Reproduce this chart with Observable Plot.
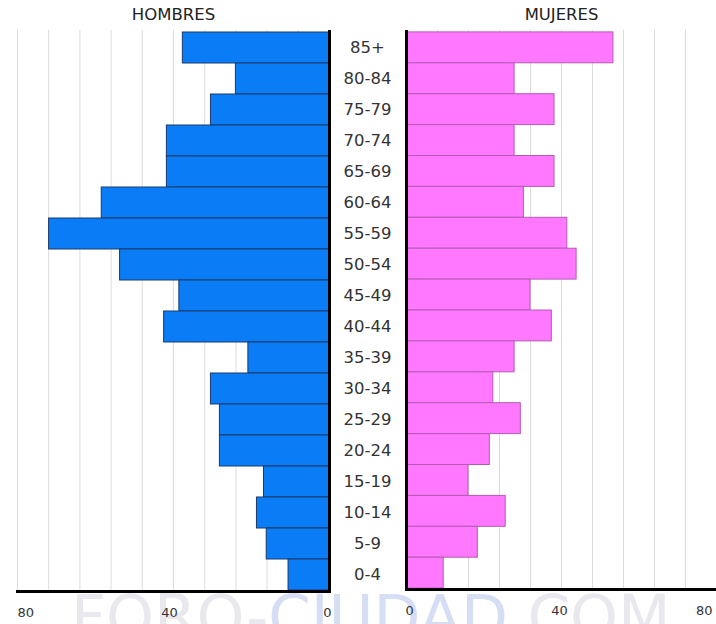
<!DOCTYPE html>
<html>
<head>
<meta charset="utf-8">
<script src="https://cdn.jsdelivr.net/npm/d3@7"></script>
<script src="https://cdn.jsdelivr.net/npm/@observablehq/plot@0.6"></script>
<style>
  html, body { margin: 0; padding: 0; background: #fff; }
  #wrap { position: relative; width: 716px; height: 624px; overflow: hidden; font-family: "DejaVu Sans", Verdana, sans-serif; }
  #wm { position: absolute; left: 71px; top: 586px; font: 61px/61px "DejaVu Sans", sans-serif; white-space: nowrap; z-index: 0; }
  #left, #right { position: absolute; top: 0; z-index: 1; }
  #left { left: 0; }
  #right { left: 404px; }
</style>
</head>
<body>
<div id="wrap">
  <div id="wm"><span style="color:#e8e8ee">FORO-</span><span style="color:#d6def4">CIUDAD</span><span style="color:#e8e8ee">.COM</span></div>
  <div id="left"></div>
  <div id="right"></div>
</div>
<script>
const ages = ["85+","80-84","75-79","70-74","65-69","60-64","55-59","50-54","45-49","40-44","35-39","30-34","25-29","20-24","15-19","10-14","5-9","0-4"];
const hombres = [37.6, 24.0, 30.4, 41.7, 41.7, 58.4, 71.9, 53.7, 38.5, 42.4, 20.8, 30.4, 28.1, 28.1, 16.8, 18.6, 16.1, 10.5];
const mujeres = [53.4, 27.9, 38.2, 27.9, 38.2, 30.3, 41.5, 43.9, 32.0, 37.5, 27.9, 22.4, 29.5, 21.5, 16.0, 25.6, 18.4, 9.6];
const tickLabels = [0, 40, 80];
const gridTicks = [8, 16, 24, 32, 40, 48, 56, 64, 72, 80];
const titles = ["HOMBRES", "MUJERES"];

const men = ages.map((a, i) => ({age: a, value: hombres[i]}));
const women = ages.map((a, i) => ({age: a, value: mujeres[i]}));

const font = "DejaVu Sans, Verdana, sans-serif";
const common = {
  height: 624,
  marginTop: 30,
  marginBottom: 33,
  style: {background: "transparent", fontFamily: font},
  y: {domain: ages, padding: 0, axis: null},
};

const left = Plot.plot({
  ...common,
  width: 407,
  marginLeft: 17,
  marginRight: 78,
  x: {domain: [0, 80], reverse: true, axis: null},
  marks: [
    Plot.ruleX(gridTicks, {stroke: "#dcdcdc", strokeWidth: 1}),
    Plot.barX(men, {x: "value", y: "age", fill: "#0a7cf5", stroke: "#1b3a6a", strokeWidth: 1}),
    Plot.ruleX([0], {stroke: "#000", strokeWidth: 3}),
    Plot.frame({anchor: "bottom", stroke: "#000", strokeWidth: 3}),
    Plot.text(ages, {x: () => 0, y: d => d, dx: 38, fontSize: 16.5, fill: "#333", textAnchor: "middle"}),
    Plot.text([titles[0]], {frameAnchor: "top", dy: -16, lineAnchor: "middle", fontSize: 16.5, fill: "#222"}),
    Plot.text(tickLabels.filter(d => d === 80), {x: d => d, frameAnchor: "bottom", dy: 21, lineAnchor: "middle", textAnchor: "start", fontSize: 13, fill: "#333"}),
    Plot.text(tickLabels.filter(d => d === 40), {x: d => d, frameAnchor: "bottom", dy: 21, lineAnchor: "middle", textAnchor: "middle", dx: -4, fontSize: 13, fill: "#333"}),
    Plot.text(tickLabels.filter(d => d === 0), {x: d => d, frameAnchor: "bottom", dy: 21, lineAnchor: "middle", textAnchor: "end", dx: 2, fontSize: 13, fill: "#333"})
  ]
});

const right = Plot.plot({
  ...common,
  width: 313,
  marginLeft: 2,
  marginRight: 0,
  x: {domain: [0, 80], axis: null},
  marks: [
    Plot.ruleX(gridTicks, {stroke: "#dcdcdc", strokeWidth: 1}),
    Plot.barX(women, {x: "value", y: "age", fill: "#ff78ff", stroke: "#b45ab4", strokeWidth: 1}),
    Plot.ruleX([0], {stroke: "#000", strokeWidth: 3}),
    Plot.frame({anchor: "bottom", stroke: "#000", strokeWidth: 3}),
    Plot.text([titles[1]], {frameAnchor: "top", dy: -16, lineAnchor: "middle", fontSize: 16.5, fill: "#222"}),
    Plot.text(tickLabels.filter(d => d === 0), {x: d => d, frameAnchor: "bottom", dy: 21, lineAnchor: "middle", textAnchor: "start", dx: -1, fontSize: 13, fill: "#333"}),
    Plot.text(tickLabels.filter(d => d === 40), {x: d => d, frameAnchor: "bottom", dy: 21, lineAnchor: "middle", textAnchor: "middle", dx: -2, fontSize: 13, fill: "#333"}),
    Plot.text(tickLabels.filter(d => d === 80), {x: d => d, frameAnchor: "bottom", dy: 21, lineAnchor: "middle", textAnchor: "end", dx: -4, fontSize: 13, fill: "#333"})
  ]
});

document.getElementById("left").appendChild(left);
document.getElementById("right").appendChild(right);
</script>
</body>
</html>
